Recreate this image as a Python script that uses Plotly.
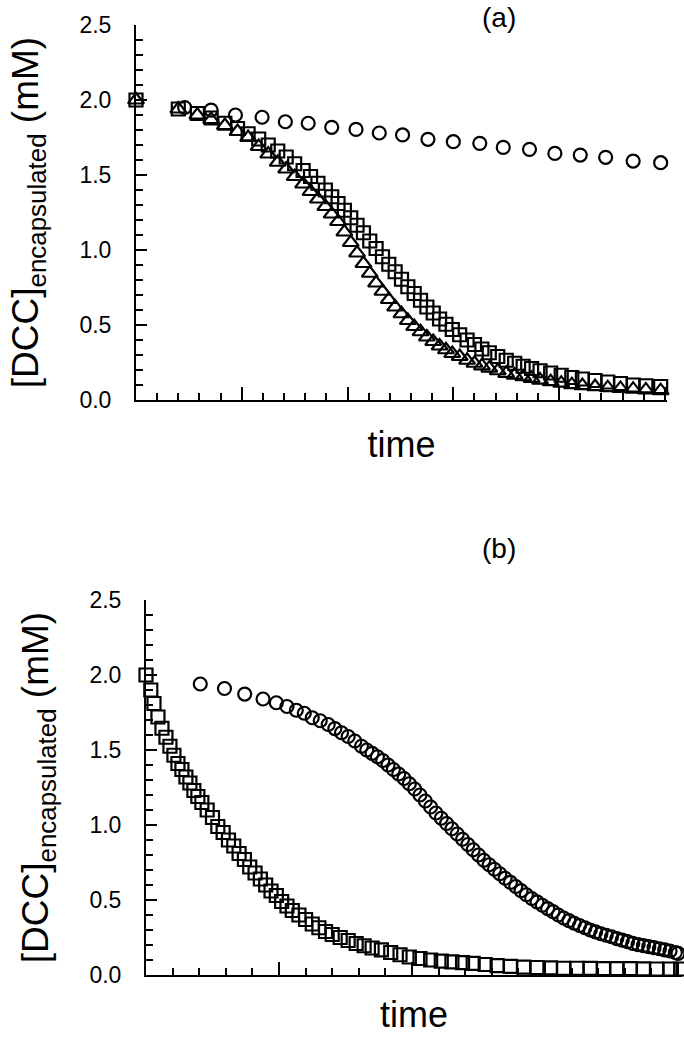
import plotly.graph_objects as go

# ---------------- Panel (a) data ----------------
a_circ_x = [2.3, 3.55, 4.7, 5.96, 7.06, 8.14, 9.25, 10.4, 11.5, 12.6, 13.8, 15.0,
            16.25, 17.36, 18.6, 19.8, 21.0, 22.2, 23.5, 24.8]
a_circ_y = [1.95, 1.933, 1.90, 1.885, 1.855, 1.845, 1.818, 1.804, 1.78, 1.767, 1.738, 1.722,
            1.711, 1.684, 1.671, 1.644, 1.633, 1.618, 1.593, 1.582]

a_sq_x = [0, 2.0, 2.9, 3.55, 4.2, 4.8, 5.3, 5.8, 6.25, 6.7, 7.1, 7.5, 7.9, 8.25, 8.6, 8.95,
          9.25, 9.55, 9.85, 10.15, 10.45, 10.75, 11.05, 11.35, 11.65, 11.95, 12.25, 12.55,
          12.85, 13.15, 13.45, 13.75, 14.05, 14.35, 14.65, 14.95, 15.3, 15.65, 16.0, 16.35,
          16.7, 17.1, 17.5, 17.9, 18.3, 18.7, 19.1, 19.6, 20.1, 20.6, 21.1, 21.7, 22.3, 22.9,
          23.5, 24.1, 24.8]
a_sq_y = [2.0, 1.94, 1.91, 1.88, 1.845, 1.81, 1.775, 1.74, 1.70, 1.66, 1.62, 1.575, 1.53, 1.49,
          1.445, 1.40, 1.355, 1.31, 1.265, 1.215, 1.165, 1.115, 1.06, 1.01, 0.955, 0.905, 0.855,
          0.805, 0.755, 0.71, 0.665, 0.62, 0.58, 0.54, 0.505, 0.47, 0.435, 0.40, 0.37, 0.34,
          0.315, 0.29, 0.265, 0.245, 0.225, 0.21, 0.195, 0.18, 0.165, 0.15, 0.14, 0.13, 0.12,
          0.11, 0.10, 0.095, 0.09]

a_tri_x = [0, 2.0, 2.9, 3.55, 4.2, 4.8, 5.3, 5.8, 6.25, 6.7, 7.1, 7.5, 7.9, 8.25, 8.6, 8.95,
           9.25, 9.55, 9.85, 10.15, 10.45, 10.75, 11.05, 11.35, 11.65, 11.95, 12.25, 12.55,
           12.85, 13.15, 13.45, 13.75, 14.05, 14.35, 14.65, 14.95, 15.3, 15.65, 16.0, 16.35,
           16.7, 17.1, 17.5, 17.9, 18.3, 18.7, 19.1, 19.6, 20.1, 20.6, 21.1, 21.7, 22.3, 22.9,
           23.5, 24.1, 24.8]
a_tri_y = [2.0, 1.94, 1.90, 1.87, 1.83, 1.79, 1.75, 1.69, 1.64, 1.585, 1.54, 1.49, 1.44, 1.39,
           1.34, 1.29, 1.24, 1.19, 1.12, 1.05, 0.98, 0.91, 0.845, 0.78, 0.725, 0.67, 0.62,
           0.575, 0.53, 0.49, 0.455, 0.42, 0.39, 0.36, 0.335, 0.31, 0.29, 0.265, 0.245,
           0.228, 0.212, 0.195, 0.178, 0.166, 0.155, 0.144, 0.133, 0.122, 0.112, 0.102, 0.096,
           0.089, 0.082, 0.077, 0.072, 0.067, 0.062]

# ---------------- Panel (b) data ----------------
b_sq_x = [0, 0.18, 0.3, 0.45, 0.6, 0.75, 0.9, 1.05, 1.2, 1.35, 1.5, 1.65, 1.8, 1.95, 2.1, 2.3,
          2.5, 2.7, 2.9, 3.1, 3.3, 3.5, 3.7, 3.9, 4.1, 4.3, 4.5, 4.7, 4.9, 5.1, 5.3, 5.5, 5.75,
          6.0, 6.25, 6.5, 6.75, 7.0, 7.3, 7.6, 7.9, 8.2, 8.5, 8.85, 9.2, 9.55, 9.9, 10.3, 10.7,
          11.1, 11.5, 11.9, 12.3, 12.75, 13.2, 13.7, 14.2, 14.7, 15.2, 15.7, 16.2, 16.7, 17.2,
          17.7, 18.2, 18.7, 19.2, 19.7, 20.1]
b_sq_y = [2.0, 1.9, 1.81, 1.72, 1.645, 1.585, 1.525, 1.465, 1.41, 1.37, 1.32, 1.28, 1.23, 1.19,
          1.15, 1.10, 1.05, 0.99, 0.95, 0.90, 0.86, 0.81, 0.77, 0.72, 0.68, 0.64, 0.60, 0.56,
          0.53, 0.49, 0.46, 0.43, 0.40, 0.37, 0.34, 0.315, 0.29, 0.27, 0.25, 0.23, 0.21, 0.195,
          0.18, 0.167, 0.15, 0.135, 0.12, 0.11, 0.10, 0.093, 0.087, 0.082, 0.077, 0.07, 0.063,
          0.058, 0.052, 0.05, 0.047, 0.045, 0.045, 0.044, 0.043, 0.042, 0.042, 0.041, 0.04,
          0.04, 0.04]

b_circ_x = [2.04, 2.95, 3.71, 4.4, 4.9, 5.3, 5.65, 5.95, 6.25, 6.55, 6.85, 7.1, 7.35, 7.6,
            7.85, 8.1, 8.3, 8.5, 8.7, 8.9, 9.1, 9.3, 9.5, 9.7, 9.9, 10.1, 10.3, 10.5, 10.7,
            10.9, 11.1, 11.3, 11.5, 11.7, 11.9, 12.1, 12.3, 12.5, 12.7, 12.9, 13.1, 13.3, 13.5,
            13.7, 13.9, 14.1, 14.3, 14.5, 14.7, 14.9, 15.1, 15.3, 15.5, 15.7, 15.9, 16.1, 16.3,
            16.5, 16.7, 16.9, 17.1, 17.3, 17.5, 17.7, 17.9, 18.1, 18.3, 18.5, 18.7, 18.9, 19.1,
            19.3, 19.5, 19.7, 19.9, 20.0]
b_circ_y = [1.94, 1.91, 1.873, 1.84, 1.815, 1.79, 1.765, 1.745, 1.715, 1.695, 1.67, 1.643,
            1.615, 1.59, 1.56, 1.525, 1.50, 1.478, 1.455, 1.43, 1.40, 1.37, 1.34, 1.31, 1.275,
            1.24, 1.20, 1.16, 1.12, 1.08, 1.045, 1.01, 0.975, 0.94, 0.905, 0.87, 0.835, 0.80,
            0.765, 0.735, 0.705, 0.675, 0.645, 0.617, 0.59, 0.562, 0.535, 0.51, 0.487, 0.465,
            0.443, 0.422, 0.40, 0.38, 0.362, 0.345, 0.33, 0.315, 0.30, 0.287, 0.275, 0.265,
            0.255, 0.243, 0.232, 0.222, 0.211, 0.203, 0.196, 0.189, 0.182, 0.175, 0.168, 0.16,
            0.15, 0.144]

y_ticks = [0.0, 0.5, 1.0, 1.5, 2.0, 2.5]
x_major = [5, 10, 15, 20, 25]
y_title = "[DCC]<sub>encapsulated</sub> (mM)"
x_title = "time"
panel_labels = ["(a)", "(b)"]

W, H = 684, 1037
FONT = "Liberation Sans, Arial, Helvetica, sans-serif"


def mk(x, y, symbol, xa, ya, size=13):
    return go.Scatter(x=x, y=y, mode="markers", xaxis=xa, yaxis=ya, cliponaxis=False,
                      showlegend=False,
                      marker=dict(symbol=symbol, size=size, color="black",
                                  line=dict(color="black", width=2.2)))


fig = go.Figure()
fig.add_trace(mk(a_circ_x, a_circ_y, "circle-open", "x", "y", 13))
fig.add_trace(mk(a_sq_x, a_sq_y, "square-open", "x", "y", 13))
fig.add_trace(mk(a_tri_x, a_tri_y, "triangle-up-open", "x", "y", 14))
fig.add_trace(mk(b_sq_x, b_sq_y, "square-open", "x2", "y2", 13))
fig.add_trace(mk(b_circ_x, b_circ_y, "circle-open", "x2", "y2", 13))


def xax(domain, rng, anchor, standoff):
    return dict(domain=domain, range=rng, anchor=anchor, automargin=False,
                showline=True, linecolor="black", linewidth=2,
                ticks="inside", tickvals=x_major, ticklen=13, tickwidth=2,
                tickcolor="black", showticklabels=False, showgrid=False, zeroline=False,
                minor=dict(ticks="inside", dtick=1, tick0=0, ticklen=7, tickwidth=2,
                           tickcolor="black", showgrid=False),
                title=dict(text=x_title, font=dict(family=FONT, size=36, color="black"),
                           standoff=standoff))


def yax(domain, anchor):
    return dict(domain=domain, range=[0, 2.5], anchor=anchor, automargin=False,
                showline=True, linecolor="black", linewidth=2, ticks="inside",
                tickvals=y_ticks, ticktext=[f"{v:.1f}" for v in y_ticks], ticklen=11,
                tickwidth=2, tickcolor="black", ticklabelstandoff=18, showgrid=False,
                zeroline=False, tickfont=dict(family=FONT, size=23, color="black"),
                minor=dict(ticks="inside", dtick=0.1, tick0=0, ticklen=7, tickwidth=2,
                           tickcolor="black", showgrid=False),
                title=dict(text=y_title, font=dict(family=FONT, size=37, color="black"),
                           standoff=29))


fig.update_layout(
    width=W, height=H, margin=dict(l=0, r=0, t=0, b=0, autoexpand=False),
    paper_bgcolor="white", plot_bgcolor="white",
    font=dict(family=FONT, color="black"),
    xaxis=xax([136 / W, 667 / W], [0, 25.1], "y", 31),
    yaxis=yax([1 - 400 / H, 1 - 25 / H], "x"),
    xaxis2=xax([146 / W, 682 / W], [0, 20.15], "y2", 26),
    yaxis2=yax([1 - 975 / H, 1 - 600 / H], "x2"),
    annotations=[
        dict(text=panel_labels[0], x=499 / W, y=1 - 18 / H, xref="paper", yref="paper",
             xanchor="center", yanchor="middle", showarrow=False,
             font=dict(family=FONT, size=28, color="black")),
        dict(text=panel_labels[1], x=499 / W, y=1 - 548 / H, xref="paper", yref="paper",
             xanchor="center", yanchor="middle", showarrow=False,
             font=dict(family=FONT, size=28, color="black")),
    ],
)

fig.write_html("out.html", config={"displayModeBar": False},
               post_script="document.body.style.margin='0';"
                           "document.body.style.overflow='hidden';")
